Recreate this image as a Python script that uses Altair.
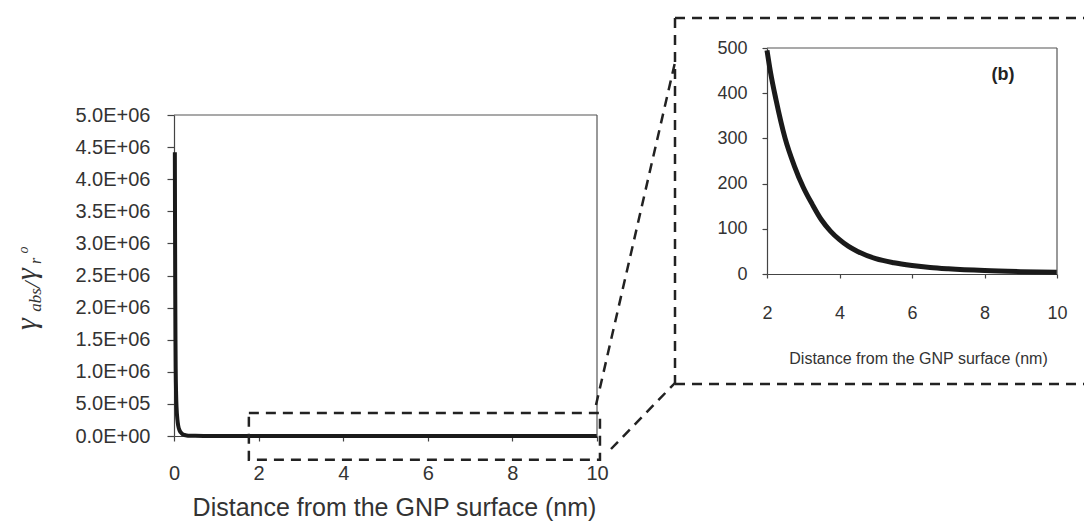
import altair as alt
import pandas as pd

# ---------------- data ----------------
dist_main = [0.02, 0.025, 0.03, 0.035, 0.04, 0.05, 0.06, 0.08, 0.10, 0.13, 0.16,
             0.20, 0.25, 0.30, 0.40, 0.50, 0.70, 1.0, 1.5, 2.0, 3.0, 4.0, 5.0,
             6.0, 8.0, 10.0]
ratio_main = [4.42e6, 3.2e6, 2.2e6, 1.5e6, 1.05e6, 6.5e5, 4.5e5, 2.6e5, 1.6e5,
              9.0e4, 5.5e4, 3.0e4, 1.6e4, 9.0e3, 4.0e3, 2.2e3, 1.1e3, 8.0e2,
              6.5e2, 495, 192, 76, 34, 19, 7.5, 3.8]

dist_inset = [2.0, 2.1, 2.25, 2.5, 2.75, 3.0, 3.25, 3.5, 3.75, 4.0, 4.25, 4.5,
              5.0, 5.5, 6.0, 6.5, 7.0, 8.0, 9.0, 10.0]
ratio_inset = [495, 445, 385, 300, 240, 192, 154, 120, 95, 76, 61, 50, 34,
               25, 19, 14.5, 11.5, 7.5, 5.2, 3.8]

main_x_ticks = [0, 2, 4, 6, 8, 10]
main_y_ticks = [0, 5e5, 1e6, 1.5e6, 2e6, 2.5e6, 3e6, 3.5e6, 4e6, 4.5e6, 5e6]
main_y_labels = ["0.0E+00", "5.0E+05", "1.0E+06", "1.5E+06", "2.0E+06",
                 "2.5E+06", "3.0E+06", "3.5E+06", "4.0E+06", "4.5E+06",
                 "5.0E+06"]
inset_x_ticks = [2, 4, 6, 8, 10]
inset_y_ticks = [0, 100, 200, 300, 400, 500]

zoom_region_x = [1.77, 10.07]
zoom_region_y = [-3.7e5, 3.6e5]

x_title = "Distance from the GNP surface (nm)"
panel_label = "(b)"
y_title_parts = ["γ", "abs", "/", "γ", "r", "o"]

# ---------------- styles ----------------
SANS = "Liberation Sans"
SERIF = "Liberation Serif"
TXT = "#333333"
AX = "#444444"
INK = "#1a1a1a"
DASH = [10, 7]

df_main = pd.DataFrame({"d": dist_main, "r": ratio_main})
df_inset = pd.DataFrame({"d": dist_inset, "r": ratio_inset})
one = pd.DataFrame({"k": [0]})

# main panel scales/axes
m_xs = alt.Scale(domain=[0, 10], range=[0, 423], nice=False, zero=False)
m_ys = alt.Scale(domain=[0, 5e6], range=[418, 97], nice=False)
label_arr = "[" + ",".join("'%s'" % s for s in main_y_labels) + "]"
m_xa = alt.Axis(values=main_x_ticks, orient="bottom", grid=False,
                title=x_title, titleFont=SANS, titleFontSize=25,
                titleFontWeight="normal", titleColor=TXT,
                titleX=220, titleY=79, titleBaseline="alphabetic",
                labelFont=SANS, labelFontSize=20, labelColor=TXT,
                labelPadding=22, labelFlush=False, labelOverlap=False,
                tickSize=5, tickColor=AX, tickWidth=1.2,
                domainColor=AX, domainWidth=1.2)
m_ya = alt.Axis(values=main_y_ticks, orient="left", grid=False, title=None,
                labelExpr=label_arr + "[round(datum.value / 500000)]",
                labelFont=SANS, labelFontSize=20, labelColor=TXT,
                labelPadding=17, labelFlush=False, labelOverlap=False,
                tickSize=7, tickColor=AX, tickWidth=1.2,
                domainColor=AX, domainWidth=1.2)


def mx(f):
    return alt.X(f, type="quantitative", scale=m_xs, axis=m_xa)


def my(f):
    return alt.Y(f, type="quantitative", scale=m_ys, axis=m_ya)


main_curve = alt.Chart(df_main).mark_line(
    color=INK, strokeWidth=4, interpolate="monotone"
).encode(x=mx("d"), y=my("r"))

frame_main_df = pd.DataFrame({
    "d": [0, 10], "d2": [10, 10],
    "r": [5e6, 0], "r2": [5e6, 5e6]})
main_frame = alt.Chart(frame_main_df).mark_rule(
    color="#555555", strokeWidth=1.2
).encode(x=mx("d"), x2="d2", y=my("r"), y2="r2")

zoom_df = pd.DataFrame({"d": [zoom_region_x[0]], "d2": [zoom_region_x[1]],
                        "r": [zoom_region_y[0]], "r2": [zoom_region_y[1]]})
zoom_box = alt.Chart(zoom_df).mark_rect(
    fillOpacity=0, stroke="#222222", strokeWidth=2.5, strokeDash=DASH
).encode(x=mx("d"), x2="d2", y=my("r"), y2="r2")

# composite y title (rotated pieces)
pieces = [
    (y_title_parts[0], -138, 306, 30),
    (y_title_parts[1], -133, 282, 17),
    (y_title_parts[2], -134, 267, 24),
    (y_title_parts[3], -138, 256, 30),
    (y_title_parts[4], -133, 243, 16),
    (y_title_parts[5], -146, 232, 14),
]
title_layers = []
for txt, px, py, fs in pieces:
    title_layers.append(
        alt.Chart(one).mark_text(
            font=SERIF, fontStyle="italic", fontSize=fs, color=TXT,
            angle=270, align="center", baseline="alphabetic"
        ).encode(x=alt.value(px), y=alt.value(py), text=alt.value(txt))
    )

main_group = alt.layer(main_curve, main_frame, zoom_box, *title_layers)

# inset panel scales/axes
i_xs = alt.Scale(domain=[2, 10], range=[593, 883], nice=False, zero=False)
i_ys = alt.Scale(domain=[0, 500], range=[256, 30], nice=False)
i_xa = alt.Axis(values=inset_x_ticks, orient="bottom", offset=-162, grid=False,
                title=x_title, titleFont=SANS, titleFontSize=16,
                titleFontWeight="normal", titleColor=TXT,
                titleX=744, titleY=89, titleBaseline="alphabetic",
                labelFont=SANS, labelFontSize=18, labelColor=TXT,
                labelPadding=26, labelFlush=False, labelOverlap=False,
                tickSize=4, tickColor=AX, tickWidth=1.2,
                domainColor=AX, domainWidth=1.2)
i_ya = alt.Axis(values=inset_y_ticks, orient="left", offset=-593, grid=False,
                title=None,
                labelFont=SANS, labelFontSize=18, labelColor=TXT,
                labelPadding=15, labelFlush=False, labelOverlap=False,
                tickSize=5, tickColor=AX, tickWidth=1.2,
                domainColor=AX, domainWidth=1.2)


def ix(f):
    return alt.X(f, type="quantitative", scale=i_xs, axis=i_xa)


def iy(f):
    return alt.Y(f, type="quantitative", scale=i_ys, axis=i_ya)


inset_curve = alt.Chart(df_inset).mark_line(
    color=INK, strokeWidth=5, interpolate="monotone"
).encode(x=ix("d"), y=iy("r"))

frame_inset_df = pd.DataFrame({
    "d": [2, 10], "d2": [10, 10],
    "r": [500, 0], "r2": [500, 500]})
inset_frame = alt.Chart(frame_inset_df).mark_rule(
    color="#555555", strokeWidth=1.2
).encode(x=ix("d"), x2="d2", y=iy("r"), y2="r2")

label_b = alt.Chart(one).mark_text(
    font=SANS, fontSize=18, fontWeight="bold", color="#222222",
    align="center", baseline="middle"
).encode(x=alt.value(829), y=alt.value(57), text=alt.value(panel_label))


# big dashed callout box and connectors (pixel annotation)
def dashed(x1, y1, x2, y2):
    return alt.Chart(one).mark_rule(
        color="#222222", strokeWidth=2.5, strokeDash=DASH
    ).encode(x=alt.value(x1), y=alt.value(y1),
             x2=alt.value(x2), y2=alt.value(y2))


callout = [
    dashed(501, 0, 910, 0),
    dashed(501, 0, 501, 366),
    dashed(501, 366, 910, 366),
    dashed(422, 387, 502, 40),
    dashed(437, 431, 501, 365),
]

inset_group = alt.layer(inset_curve, inset_frame, label_b, *callout)

chart = alt.layer(main_group, inset_group).resolve_scale(
    x="independent", y="independent"
).resolve_axis(
    x="independent", y="independent"
).properties(
    width=910, height=418,
    autosize=alt.AutoSizeParams(type="none"),
    padding={"left": 166, "top": 10, "right": 0, "bottom": 85},
    background="white",
).configure_view(strokeWidth=0)

chart.save("out.html", embed_options={"renderer": "svg", "actions": False})
